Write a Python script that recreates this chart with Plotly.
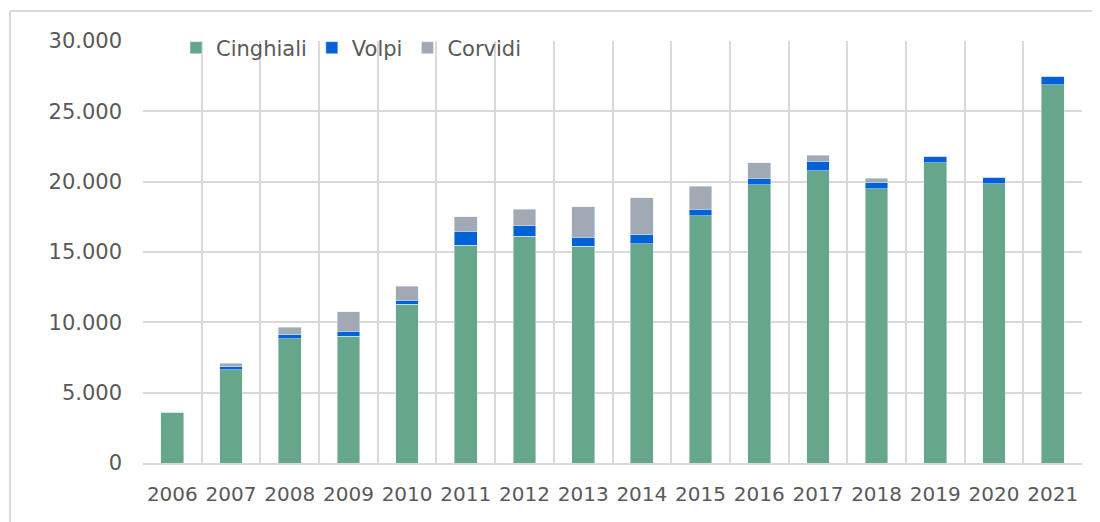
import plotly.graph_objects as go

years = ["2006", "2007", "2008", "2009", "2010", "2011", "2012", "2013",
         "2014", "2015", "2016", "2017", "2018", "2019", "2020", "2021"]
cinghiali = [3620, 6640, 8820, 9000, 11280, 15470, 16110, 15400,
             15570, 17580, 19790, 20760, 19480, 21330, 19860, 26890]
volpi = [0, 190, 280, 380, 290, 1020, 760, 640,
         640, 450, 450, 690, 470, 470, 470, 610]
corvidi = [40, 260, 550, 1370, 1000, 1000, 1160, 2180,
           2650, 1660, 1090, 430, 280, 0, 0, 0]
y_ticks = [0, 5000, 10000, 15000, 20000, 25000, 30000]

FONT = "DejaVu Sans, sans-serif"
TXT = "#595959"
GRID = "#d9d9d9"

fig = go.Figure()
fig.add_bar(x=years, y=cinghiali, name="Cinghiali", marker_color="#66a68a")
fig.add_bar(x=years, y=volpi, name="Volpi", marker_color="#0062d6")
fig.add_bar(x=years, y=corvidi, name="Corvidi", marker_color="#a1aab4")

# page body has an 8px margin, so figure coords = screen coords - 8
OFF = 8
W, H = 1100, 522
L, R, T, B = 143 - OFF, 26, 41 - OFF, 67
pw, ph = W - L - R, H - T - B

def px(x):
    return (x - OFF - L) / pw

def py(y):
    return (H - B - (y - OFF)) / ph

fig.update_layout(
    width=W, height=H,
    barmode="stack", bargap=0.613,
    separators=",.",
    paper_bgcolor="white", plot_bgcolor="white",
    margin=dict(l=L, r=R, t=T, b=B, pad=0, autoexpand=False),
    font=dict(family=FONT, size=20, color=TXT),
    showlegend=True,
    legend=dict(orientation="h", x=px(176), xanchor="left", y=py(48), yanchor="middle",
                font=dict(family=FONT, size=21, color=TXT), bgcolor="rgba(0,0,0,0)",
                traceorder="normal"),
    xaxis=dict(type="category", tickson="boundaries", showgrid=True, gridcolor=GRID,
               gridwidth=1.5, ticks="", showline=True, linecolor=GRID, linewidth=1.5,
               tickangle=0, automargin=False,
               tickfont=dict(size=20, color=TXT), ticklabelstandoff=12),
    yaxis=dict(range=[0, 30000], tickvals=y_ticks, tickformat=",d", showgrid=True,
               gridcolor=GRID, gridwidth=1.5, zeroline=False, ticks="", automargin=False,
               tickfont=dict(size=21, color=TXT), ticklabelstandoff=20),
    shapes=[
        dict(type="line", xref="paper", yref="paper", x0=px(10), x1=px(10),
             y0=py(560), y1=py(11), line=dict(color=GRID, width=2)),
        dict(type="line", xref="paper", yref="paper", x0=px(10), x1=px(1120),
             y0=py(11), y1=py(11), line=dict(color=GRID, width=2)),
    ],
)

fig.write_html("out.html")
